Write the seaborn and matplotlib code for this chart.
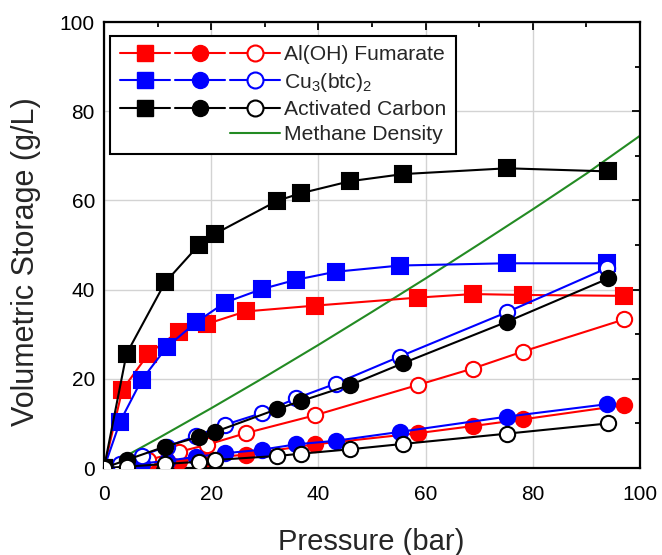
import numpy as np
import pandas as pd
import matplotlib
matplotlib.use("Agg")
import matplotlib.pyplot as plt
import seaborn as sns
from matplotlib.lines import Line2D
from matplotlib.legend_handler import HandlerTuple

# ---------------- data ----------------
p_fum = [0, 3.4, 8.3, 13.9, 19.2, 26.4, 39.3, 58.5, 68.8, 78.1, 97.0]
fum_sq = [0, 17.5, 25.6, 30.6, 32.3, 35.1, 36.4, 38.2, 39.0, 38.8, 38.6]
fum_fc = [0, 0.5, 1.0, 1.6, 2.2, 3.0, 5.3, 7.8, 9.4, 10.9, 14.1]
fum_oc = [0, 0.7, 1.8, 3.6, 5.2, 7.8, 11.8, 18.6, 22.3, 26.1, 33.3]

p_cu = [0, 3.0, 7.0, 11.7, 17.2, 22.6, 29.4, 35.8, 43.2, 55.2, 75.1, 93.8]
cu_sq = [0, 10.4, 19.7, 27.1, 32.7, 37.1, 40.1, 42.2, 44.0, 45.4, 45.9, 45.9]
cu_fc = [0, 0.5, 1.0, 1.6, 2.5, 3.3, 4.1, 5.3, 6.1, 8.1, 11.5, 14.3]
cu_oc = [0, 1.0, 2.8, 4.8, 7.2, 9.7, 12.3, 15.6, 18.9, 25.0, 34.9, 44.8]

p_ac = [0, 4.2, 11.4, 17.7, 20.7, 32.3, 36.7, 45.9, 55.8, 75.2, 94.1]
ac_sq = [0, 25.6, 41.6, 50.0, 52.5, 59.9, 61.6, 64.3, 65.9, 67.2, 66.5]
ac_fc = [0, 1.8, 4.8, 7.0, 8.1, 13.2, 15.0, 18.6, 23.5, 32.8, 42.5]
ac_oc = [0, 0.3, 0.9, 1.4, 1.8, 2.7, 3.2, 4.2, 5.4, 7.7, 10.0]

p_ch4 = [0, 10, 20, 30, 40, 50, 60, 70, 80, 90, 100]
ch4 = [0, 6.6, 13.4, 20.4, 27.6, 35.0, 42.5, 50.2, 58.0, 66.0, 74.5]

labels = ["Al(OH) Fumarate", "Cu$_3$(btc)$_2$", "Activated Carbon", "Methane Density"]
colors = ["#ff0000", "#0000ff", "#000000", "#238b23"]

# ---------------- style ----------------
sns.set_style("white")
plt.rcParams['font.family'] = ['Liberation Sans', 'DejaVu Sans']
plt.rcParams['mathtext.fontset'] = 'custom'
plt.rcParams['mathtext.rm'] = 'Liberation Sans'
plt.rcParams['mathtext.it'] = 'Liberation Sans'

fig = plt.figure(figsize=(6.62, 5.55), dpi=100)
ax = fig.add_axes([104/662, 1-468/555, 536/662, 446/555])

ms = 11
lw = 1.5
series = [
    (p_fum, [fum_sq, fum_fc, fum_oc], colors[0]),
    (p_cu, [cu_sq, cu_fc, cu_oc], colors[1]),
    (p_ac, [ac_sq, ac_fc, ac_oc], colors[2]),
]

sns.lineplot(x=p_ch4, y=ch4, ax=ax, color=colors[3], lw=lw, legend=False,
             estimator=None, sort=False, zorder=2)

for p, ys, c in series:
    for y, kind in zip(ys, ["sq", "fc", "oc"]):
        if kind == "sq":
            kw = dict(marker="s", markerfacecolor=c, markeredgecolor=c)
        elif kind == "fc":
            kw = dict(marker="o", markerfacecolor=c, markeredgecolor=c)
        else:
            kw = dict(marker="o", markerfacecolor="white", markeredgecolor=c)
        sns.lineplot(x=p, y=y, ax=ax, color=c, lw=lw, markersize=ms,
                     markeredgewidth=1.5, legend=False, estimator=None,
                     sort=False, zorder=3, **kw)

ax.set_xlim(0, 100)
ax.set_ylim(0, 100)
ax.set_xticks([0, 20, 40, 60, 80, 100])
ax.set_yticks([0, 20, 40, 60, 80, 100])
ax.set_xticks([10, 30, 50, 70, 90], minor=True)
ax.set_yticks([10, 30, 50, 70, 90], minor=True)
ax.grid(True, which="major", color="#d3d3d3", lw=1.0)
ax.set_axisbelow(True)
ax.tick_params(which="both", direction="in", top=True, right=True,
               labelsize=15, width=1.3, colors="black")
ax.tick_params(which="major", length=6)
ax.tick_params(which="minor", length=3.5)
ax.tick_params(axis="x", which="major", pad=12)
ax.tick_params(axis="y", which="major", pad=6.5)
for s in ax.spines.values():
    s.set_color("black")
    s.set_linewidth(1.6)

ax.set_xlabel("Pressure (bar)", fontsize=21)
ax.set_ylabel("Volumetric Storage (g/L)", fontsize=22)
ax.xaxis.set_label_coords(0.499, -0.135)
ax.yaxis.set_label_coords(-0.117, 0.462)

# ---------------- legend ----------------
lms = 11.5
handles = []
for c in colors[:3]:
    h1 = Line2D([], [], color=c, lw=lw, marker="s", ms=lms, mfc=c, mec=c)
    h2 = Line2D([], [], color=c, lw=lw, marker="o", ms=lms, mfc=c, mec=c)
    h3 = Line2D([], [], color=c, lw=lw, marker="o", ms=lms, mfc="white", mec=c, mew=1.5)
    handles.append((h1, h2, h3))
handles.append((Line2D([], [], linestyle="none"), Line2D([], [], linestyle="none"),
                Line2D([], [], color=colors[3], lw=lw)))

leg = ax.legend(handles, labels, loc="upper left", bbox_to_anchor=(0.012, 0.969),
                borderaxespad=0, handler_map={tuple: HandlerTuple(ndivide=None, pad=0.25)},
                handlelength=7.6, handletextpad=0.18, fontsize=15.2, frameon=True,
                fancybox=False, framealpha=1, edgecolor="black", labelspacing=0.3,
                borderpad=0.45)
leg.get_frame().set_linewidth(1.5)

fig.savefig("out.png", dpi=100)
